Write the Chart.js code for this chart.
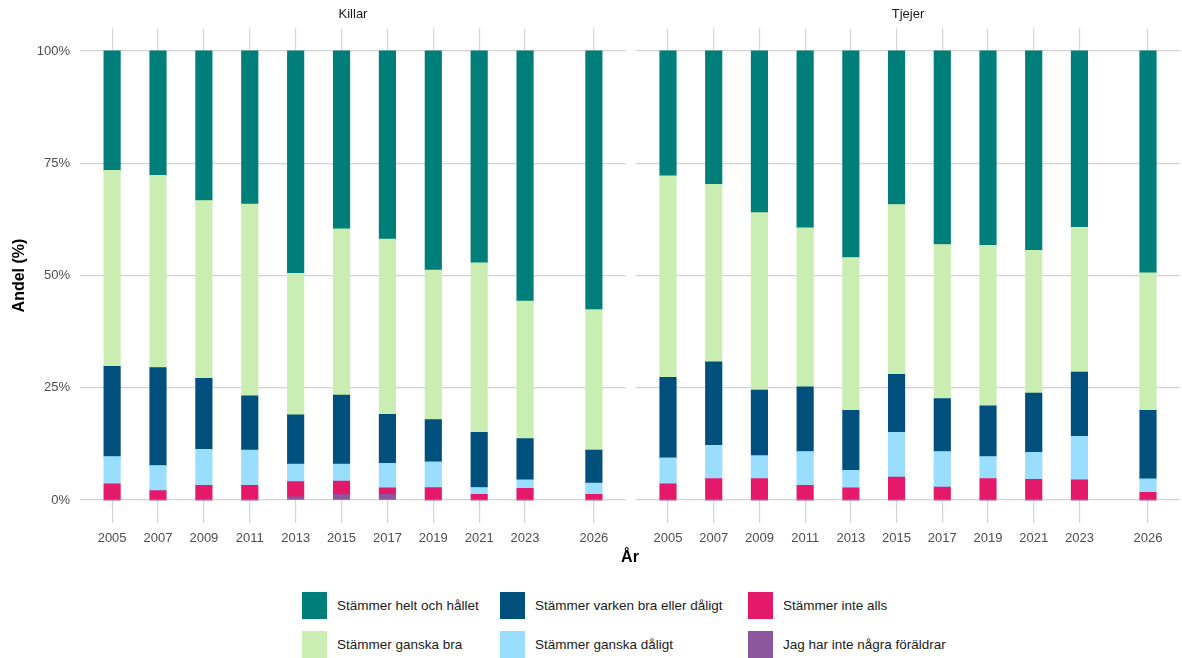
<!DOCTYPE html>
<html>
<head>
<meta charset="utf-8">
<script src="https://cdn.jsdelivr.net/npm/chart.js@4.4.0/dist/chart.umd.min.js"></script>
<style>
  body { margin: 0; background: #fff; font-family: "Liberation Sans", Arial, sans-serif; }
  #wrap { position: relative; width: 1182px; height: 658px; }
  #wrap canvas { position: absolute; top: 0; }
  #xtitle { position: absolute; top: 548px; left: 0; width: 1260px; text-align: center; font-weight: bold; font-size: 16px; color: #000; }
  #legend { position: absolute; top: 592px; left: 302px; display: grid;
            grid-template-columns: 198px 248px 230px; row-gap: 12px; }
  .item { display: flex; align-items: center; font-size: 13.5px; color: #1a1a1a; height: 27px; }
  .key { width: 25px; height: 27px; margin-right: 10px; }
</style>
</head>
<body>
<div id="wrap">
  <canvas id="killar"></canvas>
  <canvas id="tjejer"></canvas>
  <div id="xtitle">År</div>
  <div id="legend"></div>
</div>
<script>
const years = [2005, 2007, 2009, 2011, 2013, 2015, 2017, 2019, 2021, 2023, 2026];
const tickYears = [2005, 2007, 2009, 2011, 2013, 2015, 2017, 2019, 2021, 2023, 2026];
const yTicks = [0, 25, 50, 75, 100];
const panels = ['Killar', 'Tjejer'];

// stacked bottom -> top
const categories = [
  'Jag har inte några föräldrar',
  'Stämmer inte alls',
  'Stämmer ganska dåligt',
  'Stämmer varken bra eller dåligt',
  'Stämmer ganska bra',
  'Stämmer helt och hållet'
];
const colors = ['#8b569e', '#e5196a', '#99ddff', '#00507e', '#caeeb1', '#007e79'];

const killarForaldrar = [0, 0, 0, 0, 0.7, 1.2, 1.3, 0, 0, 0, 0];
const killarInteAlls  = [3.6, 2.1, 3.3, 3.3, 3.4, 3.0, 1.4, 2.8, 1.3, 2.6, 1.3];
const killarDaligt    = [6.1, 5.6, 8.0, 7.8, 3.9, 3.8, 5.5, 5.7, 1.5, 1.9, 2.5];
const killarVarken    = [20.1, 21.8, 15.8, 12.1, 11.0, 15.4, 10.9, 9.4, 12.3, 9.2, 7.3];
const killarGanska    = [43.6, 42.8, 39.6, 42.7, 31.5, 37.0, 39.0, 33.3, 37.7, 30.6, 31.3];
const killarHelt      = [26.6, 27.7, 33.3, 34.1, 49.5, 39.6, 41.9, 48.8, 47.2, 55.7, 57.6];

const tjejerForaldrar = [0, 0, 0, 0, 0, 0, 0, 0, 0, 0, 0];
const tjejerInteAlls  = [3.6, 4.8, 4.8, 3.3, 2.7, 5.1, 2.9, 4.8, 4.6, 4.5, 1.7];
const tjejerDaligt    = [5.8, 7.4, 5.1, 7.5, 3.9, 10.0, 7.9, 4.9, 6.0, 9.7, 3.0];
const tjejerVarken    = [17.9, 18.6, 14.6, 14.4, 13.4, 12.9, 11.8, 11.3, 13.2, 14.3, 15.3];
const tjejerGanska    = [44.9, 39.5, 39.5, 35.4, 34.0, 37.8, 34.3, 35.7, 31.8, 32.2, 30.6];
const tjejerHelt      = [27.8, 29.7, 36.0, 39.4, 46.0, 34.2, 43.1, 43.3, 44.4, 39.3, 49.4];

const killarSeries = [killarForaldrar, killarInteAlls, killarDaligt, killarVarken, killarGanska, killarHelt];
const tjejerSeries = [tjejerForaldrar, tjejerInteAlls, tjejerDaligt, tjejerVarken, tjejerGanska, tjejerHelt];

const FONT = '"Liberation Sans", Arial, sans-serif';
const GRID = '#d3d3d3';

const stripLabel = {
  id: 'stripLabel',
  afterDraw(chart, args, opts) {
    const { ctx, chartArea } = chart;
    ctx.save();
    ctx.font = '13px ' + FONT;
    ctx.fillStyle = '#1a1a1a';
    ctx.textAlign = 'center';
    ctx.textBaseline = 'middle';
    ctx.fillText(opts.text, (chartArea.left + chartArea.right) / 2, 14);
    ctx.restore();
  }
};

function makeChart(id, left, width, series, label, showY) {
  const el = document.getElementById(id);
  el.style.left = left + 'px';
  el.width = width;
  el.height = 560;
  el.style.width = width + 'px';
  el.style.height = '560px';

  return new Chart(el, {
    type: 'bar',
    data: {
      datasets: series.map((vals, i) => ({
        label: categories[i],
        data: vals.map((v, j) => ({ x: years[j], y: v })),
        backgroundColor: colors[i],
        borderWidth: 0,
        barThickness: 16.5
      }))
    },
    options: {
      responsive: false,
      animation: false,
      layout: { padding: { top: 28.5, right: 2, left: 0, bottom: 0 } },
      scales: {
        x: {
          type: 'linear',
          stacked: true,
          offset: false,
          min: 2003.6,
          max: 2027.4,
          afterBuildTicks: (s) => { s.ticks = tickYears.map(v => ({ value: v })); },
          afterFit: (s) => { s.height = 37.5; },
          grid: { color: GRID, lineWidth: 1.2, drawTicks: false, offset: false },
          border: { display: false },
          ticks: {
            autoSkip: false, maxRotation: 0, padding: 8,
            color: '#4d4d4d', font: { family: FONT, size: 13 },
            callback: (v) => String(v)
          }
        },
        y: {
          stacked: true,
          min: -5,
          max: 105,
          afterBuildTicks: (s) => { s.ticks = yTicks.map(v => ({ value: v })); },
          afterFit: (s) => { s.width = showY ? 80 : 7; },
          grid: { color: GRID, lineWidth: 1.2, drawTicks: false },
          border: { display: false },
          title: {
            display: showY, text: 'Andel (%)', color: '#000',
            font: { family: FONT, size: 16, weight: 'bold' }, padding: { top: 10 }
          },
          ticks: {
            display: showY, padding: 10,
            color: '#4d4d4d', font: { family: FONT, size: 13 },
            callback: (v) => v + '%'
          }
        }
      },
      plugins: {
        legend: { display: false },
        tooltip: { enabled: false },
        stripLabel: { text: label }
      }
    },
    plugins: [stripLabel]
  });
}

makeChart('killar', 0, 628, killarSeries, panels[0], true);
makeChart('tjejer', 629, 553, tjejerSeries, panels[1], false);

// legend laid out like the reference: columns read top-down
const legendOrder = [5, 3, 1, 4, 2, 0];
const legend = document.getElementById('legend');
legendOrder.forEach(i => {
  const item = document.createElement('div');
  item.className = 'item';
  item.innerHTML = '<span class="key" style="background:' + colors[i] + '"></span>' + categories[i];
  legend.appendChild(item);
});
</script>
</body>
</html>
